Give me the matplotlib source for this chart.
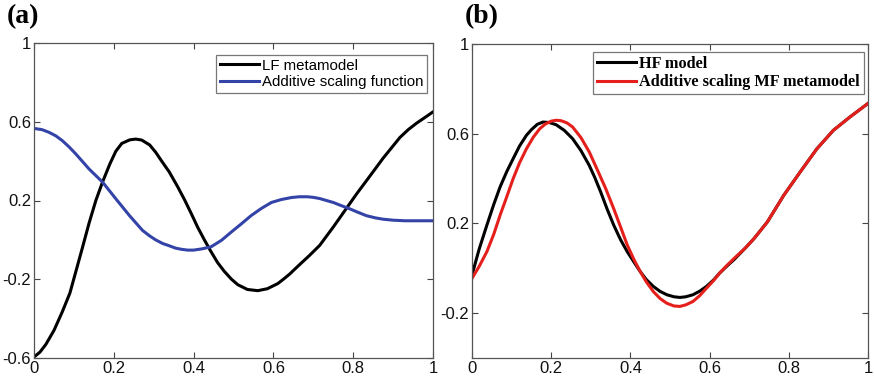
import matplotlib
matplotlib.use("Agg")
import matplotlib.pyplot as plt

# (a) LF metamodel og additiv skaleringsfunktion
lf_x = [0.0, 0.015, 0.03, 0.05, 0.071, 0.09, 0.105, 0.122, 0.138, 0.155, 0.172, 0.19,
        0.205, 0.22, 0.24, 0.255, 0.27, 0.29, 0.305, 0.32, 0.339, 0.36, 0.377, 0.395,
        0.41, 0.427, 0.444, 0.46, 0.477, 0.495, 0.511, 0.535, 0.561, 0.585, 0.611, 0.625,
        0.64, 0.666, 0.69, 0.716, 0.75, 0.783, 0.808, 0.833, 0.855, 0.875, 0.897, 0.917,
        0.938, 0.959, 0.98, 1.0]
lf_y = [-0.595, -0.57, -0.53, -0.46, -0.365, -0.27, -0.16, -0.035, 0.085, 0.2, 0.295, 0.385,
        0.45, 0.49, 0.508, 0.512, 0.507, 0.482, 0.445, 0.40, 0.345, 0.27, 0.205, 0.13,
        0.065, 0.0, -0.061, -0.115, -0.16, -0.2, -0.228, -0.252, -0.258, -0.248, -0.222, -0.2,
        -0.175, -0.125, -0.08, -0.028, 0.065, 0.16, 0.232, 0.30, 0.36, 0.415, 0.47, 0.52,
        0.56, 0.593, 0.622, 0.65]

add_x = [0.0, 0.02, 0.038, 0.055, 0.071, 0.088, 0.105, 0.138, 0.172, 0.205, 0.239, 0.272,
         0.29, 0.305, 0.322, 0.339, 0.355, 0.37, 0.385, 0.40, 0.42, 0.444, 0.47, 0.494,
         0.52, 0.544, 0.57, 0.595, 0.62, 0.645, 0.665, 0.685, 0.7, 0.716, 0.733, 0.75,
         0.77, 0.791, 0.812, 0.833, 0.855, 0.875, 0.9, 0.93, 0.96, 1.0]
add_y = [0.566, 0.56, 0.546, 0.528, 0.504, 0.472, 0.436, 0.36, 0.293, 0.209, 0.124, 0.048,
         0.02, 0.0, -0.018, -0.03, -0.042, -0.048, -0.052, -0.052, -0.046, -0.035, -0.002, 0.039,
         0.082, 0.123, 0.16, 0.19, 0.205, 0.215, 0.219, 0.219, 0.216, 0.21, 0.2, 0.19,
         0.174, 0.158, 0.14, 0.123, 0.112, 0.105, 0.1, 0.097, 0.097, 0.097]

# (b) HF model og MF metamodel
hf_x = [0.0, 0.018, 0.0375, 0.055, 0.071, 0.088, 0.104, 0.12, 0.1375, 0.15, 0.165, 0.179,
        0.195, 0.2125, 0.233, 0.254, 0.275, 0.296, 0.31, 0.325, 0.341, 0.358, 0.375, 0.392,
        0.41, 0.425, 0.44, 0.458, 0.475, 0.492, 0.51, 0.525, 0.54, 0.558, 0.575, 0.592,
        0.61, 0.625, 0.645, 0.6625, 0.69, 0.7125, 0.746, 0.7875, 0.829, 0.871, 0.9125,
        0.954, 1.0]
hf_y = [-0.03, 0.085, 0.192, 0.285, 0.363, 0.432, 0.489, 0.545, 0.593, 0.618, 0.642, 0.652,
        0.650, 0.64, 0.615, 0.578, 0.525, 0.459, 0.405, 0.34, 0.265, 0.192, 0.128, 0.074,
        0.025, -0.015, -0.05, -0.081, -0.103, -0.118, -0.127, -0.13, -0.127, -0.118, -0.102, -0.081,
        -0.052, -0.022, 0.012, 0.04, 0.09, 0.133, 0.207, 0.326, 0.43, 0.533, 0.615,
        0.674, 0.735]

mf_x = [0.0, 0.018, 0.0375, 0.055, 0.071, 0.088, 0.104, 0.12, 0.1375, 0.155, 0.171, 0.185,
        0.2, 0.2125, 0.225, 0.24, 0.254, 0.275, 0.296, 0.315, 0.3375, 0.358, 0.375, 0.392,
        0.41, 0.425, 0.44, 0.458, 0.475, 0.492, 0.51, 0.525, 0.54, 0.558, 0.575, 0.592,
        0.61, 0.625, 0.645, 0.6625, 0.69, 0.7125, 0.746, 0.7875, 0.829, 0.871, 0.9125,
        0.954, 1.0]
mf_y = [-0.045, 0.008, 0.074, 0.152, 0.237, 0.32, 0.4, 0.47, 0.533, 0.585, 0.622, 0.643,
        0.656, 0.66, 0.658, 0.648, 0.63, 0.583, 0.519, 0.445, 0.356, 0.265, 0.185, 0.104,
        0.035, -0.015, -0.06, -0.104, -0.135, -0.156, -0.168, -0.17, -0.163, -0.148, -0.122, -0.089,
        -0.055, -0.022, 0.015, 0.045, 0.09, 0.133, 0.207, 0.326, 0.43, 0.533, 0.615,
        0.674, 0.735]

x_ticks = [0, 0.2, 0.4, 0.6, 0.8, 1]
x_labels = ["0", "0.2", "0.4", "0.6", "0.8", "1"]
ya_ticks = [-0.6, -0.2, 0.2, 0.6, 1]
ya_labels = ["-0.6", "-0.2", "0.2", "0.6", "1"]
yb_ticks = [-0.2, 0.2, 0.6, 1]
yb_labels = ["-0.2", "0.2", "0.6", "1"]

plt.rcParams["font.family"] = ["Liberation Sans", "DejaVu Sans"]

fig = plt.figure(figsize=(8.74, 3.81), dpi=100)
ax1 = fig.add_axes([34 / 874, 23 / 381, 399 / 874, 315 / 381])
ax2 = fig.add_axes([472 / 874, 23 / 381, 396 / 874, 314 / 381])


def stil_akse(ax, ylim, yticks, ylabels):
    ax.set_xlim(0, 1)
    ax.set_ylim(*ylim)
    ax.set_xticks(x_ticks)
    ax.set_xticklabels(x_labels)
    ax.set_yticks(yticks)
    ax.set_yticklabels(ylabels)
    ax.tick_params(direction="in", top=True, right=True, length=4, width=0.8,
                   labelsize=12, colors="#444444", labelcolor="#111111", pad=2)
    for s in ax.spines.values():
        s.set_color("#555555")
        s.set_linewidth(0.9)


ax1.plot(lf_x, lf_y, color="black", lw=2.2, label="LF metamodel", solid_joinstyle="round")
ax1.plot(add_x, add_y, color="#3443A8", lw=2.2, label="Additive scaling function",
         solid_joinstyle="round")
stil_akse(ax1, (-0.6, 1), ya_ticks, ya_labels)
leg1 = ax1.legend(loc="upper right", bbox_to_anchor=(0.985, 0.962), fontsize=10.8,
                  frameon=True, fancybox=False, edgecolor="#555555",
                  handlelength=2.6, handletextpad=0.2, borderpad=0.25,
                  labelspacing=0.15, borderaxespad=0)
leg1.get_frame().set_linewidth(0.9)

ax2.plot(hf_x, hf_y, color="black", lw=2.2, label="HF model", solid_joinstyle="round")
ax2.plot(mf_x, mf_y, color="#E5201C", lw=2.2, label="Additive scaling MF metamodel",
         solid_joinstyle="round")
stil_akse(ax2, (-0.4, 1), yb_ticks, yb_labels)
leg2 = ax2.legend(loc="upper right", bbox_to_anchor=(0.99, 0.975),
                  prop={"family": ["Liberation Serif"], "weight": "bold", "size": 11.7},
                  frameon=True, fancybox=False, edgecolor="#555555",
                  handlelength=2.4, handletextpad=0.2, borderpad=0.25,
                  labelspacing=0.15, borderaxespad=0)
leg2.get_frame().set_linewidth(0.9)

fig.text(7 / 874, 1 - 23 / 381, "(a)", fontsize=20, fontweight="bold",
         family=["Liberation Serif"], va="baseline")
fig.text(465 / 874, 1 - 23 / 381, "(b)", fontsize=20, fontweight="bold",
         family=["Liberation Serif"], va="baseline")

fig.savefig("out.png", dpi=100)
